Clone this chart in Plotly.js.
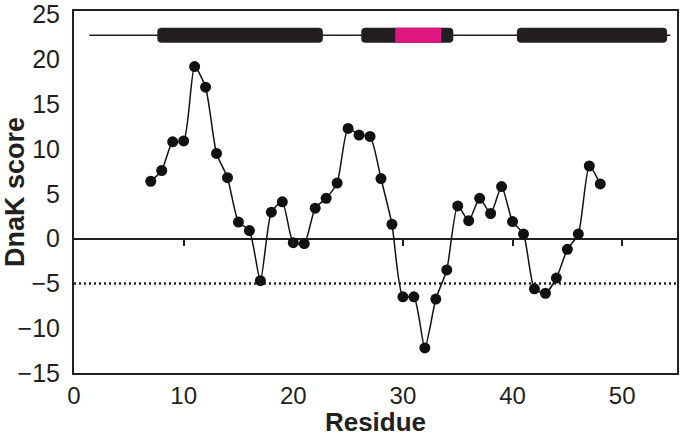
<!DOCTYPE html>
<html>
<head>
<meta charset="utf-8">
<script src="https://cdn.plot.ly/plotly-3.0.1.min.js"></script>
<style>
  html, body { margin: 0; padding: 0; background: #fff; }
  #chart { width: 680px; height: 437px; }
</style>
</head>
<body>
<div id="chart"></div>
<script>
// DnaK score per residue
const residues = [7, 8, 9, 10, 11, 12, 13, 14, 15, 16, 17, 18, 19, 20, 21, 22, 23, 24,
  25, 26, 27, 28, 29, 30, 31, 32, 33, 34, 35, 36, 37, 38, 39, 40, 41, 42, 43, 44,
  45, 46, 47, 48];
const scores = [6.4, 7.6, 10.8, 10.9, 19.2, 16.9, 9.5, 6.8, 1.85, 0.9, -4.7, 2.95, 4.1,
  -0.45, -0.55, 3.4, 4.5, 6.2, 12.3, 11.55, 11.4, 6.7, 1.6, -6.5, -6.5, -12.2, -6.75,
  -3.5, 3.65, 2.0, 4.5, 2.8, 5.8, 1.9, 0.5, -5.6, -6.1, -4.4, -1.2, 0.5, 8.1, 6.1];

// threshold line
const cutoff = -5;

// protein schematic on top (residue coordinates)
const backbone = [1.4, 54.4];
const schematicY = 22.7;
const helixStart = [7.6, 26.2, 40.4];
const helixEnd = [22.7, 34.6, 54.1];
const siteStart = [29.3];
const siteEnd = [33.5];

const xRange = [0, 55];
const yRange = [-15, 25.4];
const xTicks = [0, 10, 20, 30, 40, 50];
const yTicks = [-15, -10, -5, 0, 5, 10, 15, 20, 25];

const data = [
  {
    x: backbone,
    y: backbone.map(() => schematicY),
    type: "scatter",
    mode: "lines",
    line: { color: "#231f20", width: 1.5 },
    hoverinfo: "skip",
  },
  {
    x: xRange,
    y: xRange.map(() => cutoff),
    xaxis: "x2",
    type: "scatter",
    mode: "lines",
    line: { color: "#231f20", width: 2.5, dash: "2px,3px" },
    hoverinfo: "skip",
  },
  {
    x: residues,
    y: scores,
    type: "scatter",
    mode: "lines+markers",
    line: { color: "#111", width: 1.5, shape: "spline", smoothing: 0.6 },
    marker: { color: "#111", size: 11 },
  },
];

// rounded bar as an svg path in data units
const half = 0.84;
const rx = 0.4, ry = 0.45;
function roundedBar(x0, x1, y0, y1) {
  return "M" + (x0 + rx) + "," + y0 +
    " L" + (x1 - rx) + "," + y0 +
    " Q" + x1 + "," + y0 + " " + x1 + "," + (y0 + ry) +
    " L" + x1 + "," + (y1 - ry) +
    " Q" + x1 + "," + y1 + " " + (x1 - rx) + "," + y1 +
    " L" + (x0 + rx) + "," + y1 +
    " Q" + x0 + "," + y1 + " " + x0 + "," + (y1 - ry) +
    " L" + x0 + "," + (y0 + ry) +
    " Q" + x0 + "," + y0 + " " + (x0 + rx) + "," + y0 + " Z";
}

const shapes = [];
helixStart.forEach((s, i) => {
  shapes.push({
    type: "path", xref: "x", yref: "y",
    path: roundedBar(s, helixEnd[i], schematicY - half, schematicY + half),
    fillcolor: "#231f20", line: { width: 0 },
  });
});
siteStart.forEach((s, i) => {
  shapes.push({
    type: "rect", xref: "x", yref: "y",
    x0: s, x1: siteEnd[i], y0: schematicY - half, y1: schematicY + half,
    fillcolor: "#e0157f", line: { width: 0 },
  });
});

const layout = {
  width: 680,
  height: 437,
  margin: { l: 74, r: 3, t: 11, b: 64 },
  paper_bgcolor: "#fff",
  plot_bgcolor: "#fff",
  showlegend: false,
  font: { family: "Liberation Sans, Arial, sans-serif", color: "#231f20" },
  xaxis: {
    range: xRange,
    tickvals: xTicks,
    ticks: "",
    showgrid: false,
    zeroline: false,
    showline: true,
    mirror: true,
    linecolor: "#231f20",
    linewidth: 2,
    tickfont: { size: 24 },
    title: { text: "<b>Residue</b>", font: { size: 26 }, standoff: 6 },
  },
  // ticks sitting on the zero line
  xaxis2: {
    range: xRange,
    overlaying: "x",
    anchor: "free",
    position: (0 - yRange[0]) / (yRange[1] - yRange[0]),
    tickvals: xTicks.slice(1),
    ticks: "outside",
    ticklen: 6,
    tickwidth: 2,
    tickcolor: "#231f20",
    showticklabels: false,
    showgrid: false,
    zeroline: false,
    showline: false,
  },
  yaxis: {
    range: yRange,
    tickvals: yTicks,
    ticks: "",
    showgrid: false,
    zeroline: true,
    zerolinecolor: "#231f20",
    zerolinewidth: 2,
    showline: true,
    mirror: true,
    linecolor: "#231f20",
    linewidth: 2,
    tickfont: { size: 25 },
    ticklabelstandoff: 7,
    title: { text: "<b>DnaK score</b>", font: { size: 27 }, standoff: 4 },
  },
  shapes: shapes,
};

Plotly.newPlot("chart", data, layout, { displayModeBar: false, staticPlot: true });
</script>
</body>
</html>
